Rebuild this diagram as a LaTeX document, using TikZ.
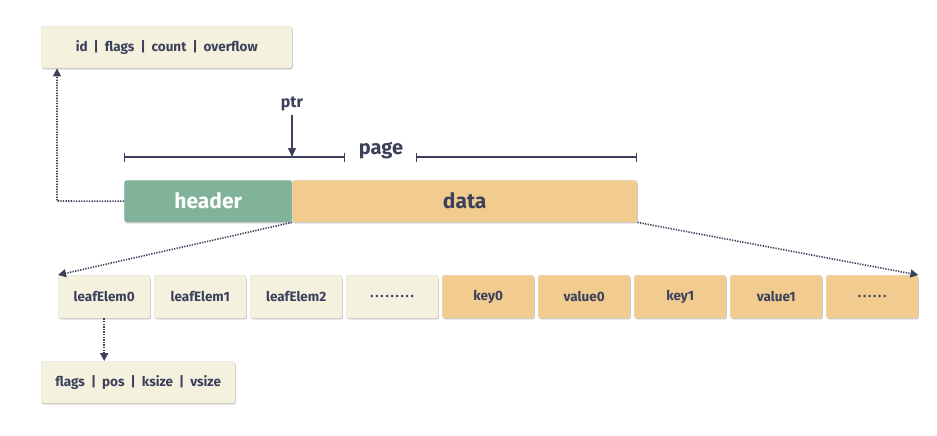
\documentclass[tikz,border=0pt]{standalone}
\usepackage{fontspec}
\setmainfont{Fira Sans}
\usetikzlibrary{shadows,arrows.meta}
\definecolor{cream}{HTML}{F4F1DE}
\definecolor{sand}{HTML}{F2CC8F}
\definecolor{sage}{HTML}{81B29A}
\definecolor{ink}{HTML}{3D405B}
\newcommand{\sep}{\hspace{0.45em}|\hspace{0.45em}}
\newcommand{\spdots}[1]{\foreach \k in {1,...,#1}{.\hspace{1.6pt}}\unskip}
\tikzset{
  cell/.style={rounded corners=2.5pt, draw=black!12, line width=0.4pt, inner sep=0pt, anchor=north west,
     drop shadow={shadow xshift=0.6pt, shadow yshift=-1.2pt, opacity=0.25, fill=black},
     text=ink, font=\fontsize{13.5}{15}\selectfont\bfseries},
  creamcell/.style={cell, fill=cream},
  sandcell/.style={cell, fill=sand},
  dotlink/.style={draw=ink, line width=1.6pt, dash pattern=on 1.3pt off 1.3pt, -{Triangle[length=8pt,width=8pt]}},
  solidarrow/.style={draw=ink, line width=1.3pt, -{Triangle[length=9pt,width=8pt]}},
  bracket/.style={draw=ink, line width=1.3pt, {Bar[width=9pt]}-{Bar[width=9pt]}},
}
\begin{document}
\begin{tikzpicture}[x=1pt,y=-1pt]
\useasboundingbox (0,0) rectangle (937,436);
% top header fields
\node[creamcell, minimum width=251pt, minimum height=42pt] (hdr) at (41,26) {id\sep flags\sep count\sep overflow};
% ptr and page bracket
\node[text=ink, font=\fontsize{16}{18}\selectfont\bfseries] (ptr) at (292,104) {ptr};
\coordinate (ptrend) at (292,157);
\draw[solidarrow] (ptr.south) -- (ptrend);
\node[text=ink, font=\fontsize{20}{22}\selectfont\bfseries] (page) at (381,151) {page};
\coordinate (bl) at (124,157);
\coordinate (bm1) at (345,157);
\coordinate (bm2) at (416,157);
\coordinate (br) at (637,157);
\draw[bracket] (bl) -- (bm1);
\draw[bracket] (bm2) -- (br);
% header and data
\node[cell, fill=sage, text=white, font=\fontsize{21}{23}\selectfont\bfseries, minimum width=168pt, minimum height=42pt] (header) at (124,180) {header};
\node[sandcell, font=\fontsize{21}{23}\selectfont\bfseries, minimum width=345pt, minimum height=42pt] (data) at (292,180) {data};
% element row
\foreach \i/\x/\t/\s in {0/58/leafElem0/creamcell,1/154/leafElem1/creamcell,2/250/leafElem2/creamcell,3/346/{.\hspace{1.8pt}.\hspace{1.8pt}.\hspace{1.8pt}.\hspace{1.8pt}.\hspace{1.8pt}.\hspace{1.8pt}.\hspace{1.8pt}.\hspace{1.8pt}.}/creamcell,4/442/key0/sandcell,5/538/value0/sandcell,6/634/key1/sandcell,7/730/value1/sandcell,8/826/{.\hspace{1.8pt}.\hspace{1.8pt}.\hspace{1.8pt}.\hspace{1.8pt}.\hspace{1.8pt}.}/sandcell}{
  \node[\s, minimum width=92pt, minimum height=43pt] (e\i) at (\x,275) {\t};
}
% leaf element fields
\node[creamcell, minimum width=194pt, minimum height=42pt] (leaf) at (41,361) {flags\sep pos\sep ksize\sep vsize};
% connectors
\coordinate (hl) at (57,201);
\draw[dotlink] (header.west) -- (hl) -- (hl |- hdr.south);
\draw[dotlink] (data.south west) -- (e0.north west);
\draw[dotlink] (data.south east) -- (e8.north east);
\draw[dotlink] (e0.south) -- (e0.south |- leaf.north);
\end{tikzpicture}
\end{document}
